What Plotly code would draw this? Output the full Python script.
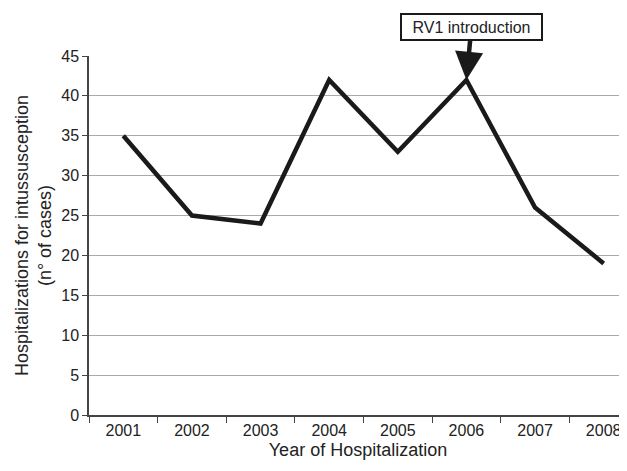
import plotly.graph_objects as go

years = ["2001", "2002", "2003", "2004", "2005", "2006", "2007", "2008"]
cases = [35, 25, 24, 42, 33, 42, 26, 19]
y_ticks = [0, 5, 10, 15, 20, 25, 30, 35, 40, 45]

fig = go.Figure()
fig.add_trace(go.Scatter(
    x=years, y=cases, mode="lines",
    line=dict(color="#1a1a1a", width=4.5),
    showlegend=False,
))

fig.add_annotation(
    x=years.index("2006"), y=cases[5], xref="x", yref="y",
    text="RV1 introduction",
    showarrow=True, arrowhead=2, arrowsize=1.25, arrowwidth=4.5,
    arrowcolor="#1a1a1a",
    ax=5, ay=-53,
    bordercolor="#1a1a1a", borderwidth=2, borderpad=2,
    bgcolor="white", width=135, height=20,
    font=dict(family="Liberation Sans, Arial", size=16, color="#222"),
)

fig.update_layout(
    width=619, height=452,
    margin=dict(l=81, r=0, t=48, b=45),
    plot_bgcolor="white", paper_bgcolor="white",
    font=dict(family="Liberation Sans, Arial", size=16, color="#222"),
    xaxis=dict(
        type="category", categoryorder="array", categoryarray=years,
        range=[-0.5, 7.34], automargin=False,
        tickson="boundaries", ticks="outside", ticklen=6, tickcolor="#444",
        showline=True, linecolor="#444", linewidth=1.5,
        showgrid=False,
        title=dict(text="Year of Hospitalization", font=dict(size=18), standoff=10),
        tickfont=dict(size=16),
    ),
    yaxis=dict(
        range=[0, 45], tickvals=y_ticks, automargin=False,
        ticks="outside", ticklen=5, tickcolor="#444",
        showline=True, linecolor="#444", linewidth=1.5,
        showgrid=True, gridcolor="#aaaaaa", gridwidth=1,
        zeroline=False,
        title=dict(text="Hospitalizations for intussusception<br>(n° of cases)",
                   font=dict(size=18), standoff=5),
        tickfont=dict(size=16),
    ),
)

fig.write_html("out.html")
